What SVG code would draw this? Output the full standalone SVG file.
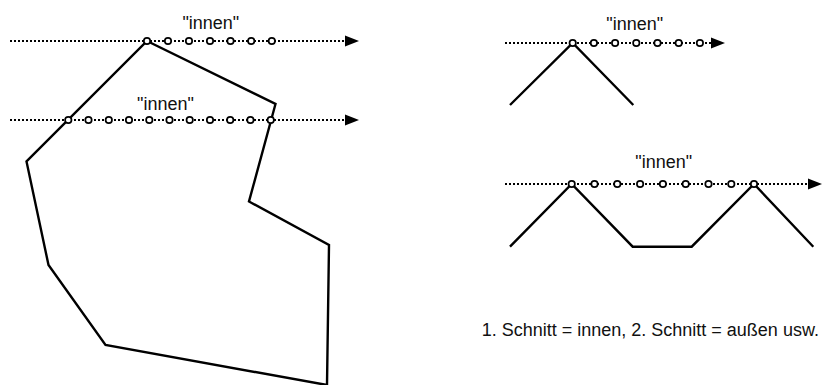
<svg xmlns="http://www.w3.org/2000/svg" width="829" height="385" viewBox="0 0 829 385">
  <style>
    .ray { fill: none; stroke: #000; stroke-width: 2; stroke-dasharray: 2 2; }
    .edge { fill: none; stroke: #000; stroke-width: 2.4; stroke-linejoin: miter; }
    .hit { fill: #fff; stroke: #000; stroke-width: 1.7; }
    .lbl { font-family: "Liberation Sans", Arial, sans-serif; font-size: 18px; fill: #111; }
  </style>
  <defs>
    <marker id="tip" markerUnits="userSpaceOnUse" markerWidth="14" markerHeight="11" refX="0" refY="5.5" orient="auto" overflow="visible">
      <path d="M0,0 L14,5.5 L0,11 Z" fill="#000"/>
    </marker>
    <circle id="dot" r="3.2" class="hit"/>
  </defs>

  <!-- polygon (left) -->
  <g id="polygon">
    <polygon class="edge" points="147,41 275.5,104 249,201.5 329,245 327,385 105.5,345 48.5,265 26.5,161.5"/>
  </g>

  <!-- right: single peak -->
  <g id="peak">
    <polyline class="edge" points="510,105 572.7,43 633.3,105"/>
  </g>

  <!-- right: two peaks -->
  <g id="two-peaks">
    <polyline class="edge" points="510,246.7 571.7,184 632.7,246.7 691.7,246.7 754,184 813.3,246.7"/>
  </g>

  <!-- dotted test rays with arrowheads -->
  <g id="rays">
    <line class="ray" x1="10" y1="41" x2="345" y2="41" marker-end="url(#tip)"/>
    <line class="ray" x1="10" y1="120" x2="345" y2="120" marker-end="url(#tip)"/>
    <line class="ray" x1="505" y1="43" x2="711" y2="43" marker-end="url(#tip)"/>
    <line class="ray" x1="505" y1="184" x2="808" y2="184" marker-end="url(#tip)"/>
  </g>

  <!-- sample points along the rays -->
  <g id="points-ray1">
    <use href="#dot" x="147" y="41"/>
    <use href="#dot" x="168" y="41"/>
    <use href="#dot" x="189" y="41"/>
    <use href="#dot" x="210" y="41"/>
    <use href="#dot" x="230.5" y="41"/>
    <use href="#dot" x="251.2" y="41"/>
    <use href="#dot" x="271.8" y="41"/>
  </g>
  <g id="points-ray2">
    <use href="#dot" x="68.3" y="120"/>
    <use href="#dot" x="88.5" y="120"/>
    <use href="#dot" x="108.8" y="120"/>
    <use href="#dot" x="129" y="120"/>
    <use href="#dot" x="149.3" y="120"/>
    <use href="#dot" x="169.5" y="120"/>
    <use href="#dot" x="189.7" y="120"/>
    <use href="#dot" x="210" y="120"/>
    <use href="#dot" x="230.2" y="120"/>
    <use href="#dot" x="250.4" y="120"/>
    <use href="#dot" x="270.7" y="120"/>
  </g>
  <g id="points-ray3">
    <use href="#dot" x="572.7" y="43"/>
    <use href="#dot" x="593.9" y="43"/>
    <use href="#dot" x="615.1" y="43"/>
    <use href="#dot" x="636.3" y="43"/>
    <use href="#dot" x="657.5" y="43"/>
    <use href="#dot" x="678.7" y="43"/>
    <use href="#dot" x="699.9" y="43"/>
  </g>
  <g id="points-ray4">
    <use href="#dot" x="571.7" y="184"/>
    <use href="#dot" x="594.5" y="184"/>
    <use href="#dot" x="617.3" y="184"/>
    <use href="#dot" x="640.1" y="184"/>
    <use href="#dot" x="662.9" y="184"/>
    <use href="#dot" x="685.7" y="184"/>
    <use href="#dot" x="708.5" y="184"/>
    <use href="#dot" x="731.3" y="184"/>
    <use href="#dot" x="754" y="184"/>
  </g>

  <!-- labels -->
  <g id="labels">
    <text class="lbl" x="210.8" y="28.5" text-anchor="middle">"innen"</text>
    <text class="lbl" x="165.5" y="110" text-anchor="middle">"innen"</text>
    <text class="lbl" x="634.7" y="29.5" text-anchor="middle">"innen"</text>
    <text class="lbl" x="663.7" y="168" text-anchor="middle">"innen"</text>
    <text class="lbl" x="481.7" y="336">1. Schnitt = innen, 2. Schnitt = außen usw.</text>
  </g>
</svg>
